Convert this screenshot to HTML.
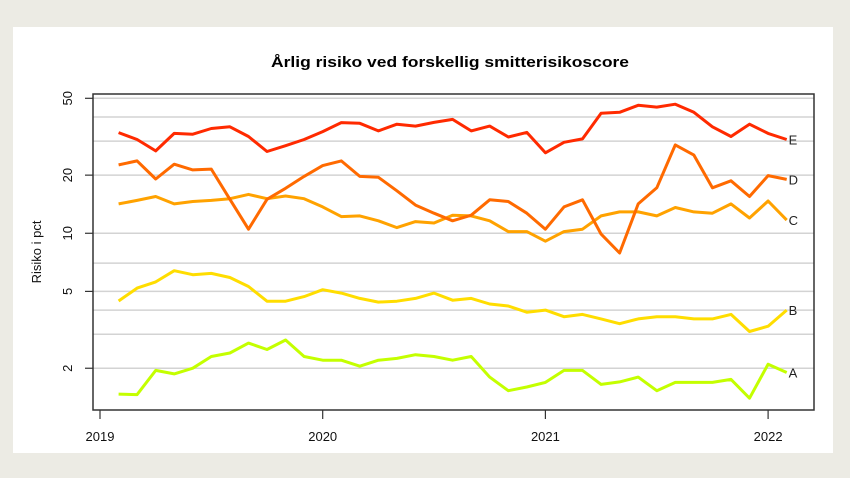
<!DOCTYPE html>
<html><head><meta charset="utf-8">
<style>
html,body{margin:0;padding:0;background:#ecebe4;}
#wrap{position:relative;width:850px;height:478px;background:#ecebe4;overflow:hidden;}
svg{position:absolute;left:0;top:0;}
text{font-family:"Liberation Sans",Arial,sans-serif;}
</style></head>
<body>
<div id="wrap">
<svg id="chart" width="850" height="478">
  <rect x="13" y="27" width="820" height="426" fill="#ffffff"/>
  <text x="450" y="67" text-anchor="middle" font-size="15" font-weight="bold" fill="#000" textLength="358" lengthAdjust="spacingAndGlyphs">Årlig risiko ved forskellig smitterisikoscore</text>
  <text transform="translate(41,252) rotate(-90)" text-anchor="middle" font-size="13" fill="#111">Risiko i pct</text>
  <g id="grid"></g>
  <g id="series"></g>
  <g id="axes"></g>
</svg>
</div>
<script>
const yearTicks = [2019, 2020, 2021, 2022];
const yTicks = [2, 5, 10, 20, 50];
const gridVals = [2, 3, 4, 5, 7, 10, 20, 30, 40, 50];
const seriesNames = ["A", "B", "C", "D", "E"];
const seriesColors = ["#c4ff00", "#ffdd00", "#ffa200", "#ff6a00", "#ff2a00"];
const startYear = 2019 + 1/12;
const serA = [1.47,1.46,1.95,1.87,2.0,2.3,2.4,2.7,2.5,2.8,2.3,2.2,2.2,2.05,2.2,2.25,2.35,2.3,2.2,2.3,1.8,1.53,1.6,1.69,1.95,1.95,1.65,1.7,1.8,1.53,1.69,1.69,1.69,1.75,1.4,2.1,1.9];
const serB = [4.46,5.2,5.6,6.4,6.1,6.2,5.9,5.3,4.45,4.45,4.7,5.1,4.9,4.6,4.4,4.45,4.6,4.9,4.5,4.6,4.3,4.2,3.9,4.0,3.7,3.8,3.6,3.4,3.6,3.7,3.7,3.6,3.6,3.8,3.1,3.3,4.0];
const serC = [14.2,14.8,15.5,14.2,14.6,14.8,15.1,15.9,15.1,15.6,15.1,13.7,12.2,12.3,11.6,10.7,11.5,11.3,12.4,12.3,11.6,10.2,10.2,9.1,10.2,10.5,12.3,12.9,12.9,12.3,13.6,12.9,12.7,14.2,12.0,14.7,11.7];
const serD = [22.6,23.7,19.1,22.8,21.3,21.5,15.0,10.5,15.0,17.1,19.7,22.4,23.7,19.7,19.5,16.6,14.0,12.7,11.6,12.4,14.9,14.6,12.7,10.5,13.7,14.9,9.9,7.9,14.2,17.2,28.7,25.4,17.2,18.7,15.5,19.9,19.0];
const serE = [33.2,30.6,26.7,32.9,32.6,34.9,35.6,31.7,26.5,28.4,30.6,33.6,37.4,37.1,33.9,36.7,35.9,37.5,38.9,33.9,35.9,31.5,33.3,26.1,29.6,30.8,41.8,42.3,46.0,45.0,46.6,42.3,35.6,31.7,36.7,32.9,30.6];
const allSeries = [serA, serB, serC, serD, serE];

const NS = "http://www.w3.org/2000/svg";
const PL = 93, PR = 814, PT = 94, PB = 410;
function xPos(t){ return 100 + (t - 2019) * 222.7; }
function yPos(v){ return 98.3 + (Math.log10(50) - Math.log10(v)) * 193.1; }
function mk(tag, attrs, parent){
  const e = document.createElementNS(NS, tag);
  for (const k in attrs) e.setAttribute(k, attrs[k]);
  parent.appendChild(e); return e;
}
const grid = document.getElementById('grid');
const axes = document.getElementById('axes');
const sg = document.getElementById('series');

gridVals.forEach(v => {
  const l = mk('line', {x1: PL, x2: PR, y1: yPos(v), y2: yPos(v), stroke: '#d3d3d3', 'stroke-width': 1.5}, grid);
  
  
});

allSeries.forEach((s, si) => {
  const pts = s.map((v, i) => xPos(startYear + i/12).toFixed(1) + ',' + yPos(v).toFixed(1)).join(' ');
  const pl = mk('polyline', {points: pts, fill: 'none', stroke: seriesColors[si], 'stroke-width': 3, 'stroke-linejoin': 'round'}, sg);
  
  
  const last = s[s.length - 1];
  const t = mk('text', {x: xPos(startYear + (s.length - 1)/12) + 2, y: yPos(last) + 5, 'font-size': 13, fill: '#222'}, sg);
  t.textContent = seriesNames[si];
  
  
});

const box = mk('rect', {x: PL, y: PT, width: PR - PL, height: PB - PT, fill: 'none', stroke: '#333', 'stroke-width': 1.5}, axes);



yearTicks.forEach(yr => {
  const x = xPos(yr);
  const tk = mk('line', {x1: x, x2: x, y1: PB, y2: PB + 9, stroke: '#333', 'stroke-width': 1.2}, axes);
  
  
  const t = mk('text', {x: x, y: 441, 'text-anchor': 'middle', 'font-size': 13, fill: '#111'}, axes);
  t.textContent = yr;
  
  
});

yTicks.forEach(v => {
  const y = yPos(v);
  const tk = mk('line', {x1: PL - 8, x2: PL, y1: y, y2: y, stroke: '#333', 'stroke-width': 1.2}, axes);
  
  
  const t = mk('text', {transform: 'translate(72,' + y + ') rotate(-90)', 'text-anchor': 'middle', 'font-size': 13, fill: '#111'}, axes);
  t.textContent = v;
  
  
});
</script>
</body></html>
